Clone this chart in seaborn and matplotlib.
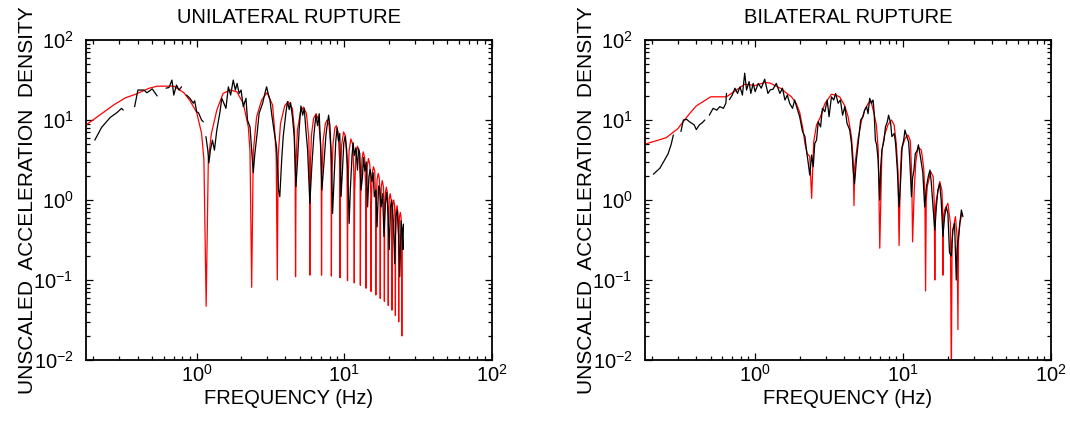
import numpy as np
import pandas as pd
import seaborn as sns
import matplotlib
matplotlib.use("Agg")
from matplotlib import pyplot as plt
from matplotlib.ticker import LogLocator, NullFormatter


# Unilateral rupture: model spectrum (red) and observed spectrum (black)
uni_model_f = [0.18, 0.255, 0.275, 0.33, 0.386, 0.475, 0.54, 0.70, 0.82, 0.90, 1.0, 1.08, 1.12,
               1.16, 1.2, 1.26, 1.37, 1.51, 1.68, 1.87, 2.07, 2.24, 2.30,
               2.36, 2.42, 2.55, 2.76, 3.0, 3.27, 3.39, 3.46,
               3.52, 3.57, 3.7, 3.95, 4.17, 4.45, 4.6, 4.65,
               4.68, 4.72, 4.82, 5.05, 5.3, 5.55, 5.75, 5.82,
               5.85, 5.89, 6.0, 6.2, 6.45, 6.7, 6.93, 6.99,
               7.02, 7.06, 7.2, 7.45, 7.65, 7.9, 8.1, 8.16,
               8.19, 8.23, 8.4, 8.65, 8.85, 9.1, 9.3,
               9.36, 9.41, 9.6, 9.9, 10.2, 10.45,
               10.53, 10.58, 10.8, 11.1, 11.4, 11.62,
               11.7, 11.76, 12.0, 12.3, 12.6, 12.82,
               12.87, 12.93, 13.2, 13.45, 13.75, 13.98,
               14.04, 14.1, 14.35, 14.6, 14.9, 15.15,
               15.21, 15.27, 15.5, 15.8, 16.1, 16.32,
               16.38, 16.44, 16.7, 17.0, 17.3, 17.5,
               17.55, 17.61, 17.85, 18.1, 18.4, 18.66,
               18.72, 18.78, 19.0, 19.3, 19.6, 19.83,
               19.89, 19.95, 20.2, 20.5, 20.8, 21.0,
               21.06, 21.12, 21.35, 21.65, 21.95, 22.17,
               22.23, 22.29, 22.5, 22.8, 23.1, 23.34,
               23.4, 23.46, 23.7, 24.0, 24.3, 24.52,
               24.57, 24.62, 24.8]
uni_model_y = [8.8, 14.0, 15.5, 19.0, 21.0, 24.9, 26.5, 26.5, 21.9, 17.5, 12.5, 6.8, 3.2,
               0.047, 3.2, 6.8, 13.3, 21.5, 23.7, 22.6, 16.2, 8.2, 4.0,
               0.081, 4.0, 11.0, 17.8, 22.0, 15.4, 6.8, 3.5,
               0.10, 3.5, 9.0, 15.0, 17.0, 14.0, 7.5, 3.0,
               0.11, 3.0, 7.5, 12.5, 14.5, 12.0, 6.0, 2.5,
               0.115, 2.5, 6.5, 10.5, 12.0, 10.0, 5.0, 2.0,
               0.115, 2.0, 5.5, 9.0, 10.0, 8.6, 4.5, 1.8,
               0.112, 1.8, 5.0, 8.0, 8.5, 7.0, 3.2,
               0.107, 1.6, 4.8, 7.1, 6.3, 2.8,
               0.098, 1.4, 4.2, 5.8, 5.0, 2.2,
               0.092, 1.2, 3.8, 4.7, 4.1, 1.8,
               0.086, 1.1, 3.3, 4.0, 3.4, 1.5,
               0.079, 0.95, 2.7, 3.3, 2.8, 1.2,
               0.072, 0.85, 2.2, 2.6, 2.3, 1.0,
               0.065, 0.75, 1.8, 2.15, 1.85, 0.85,
               0.059, 0.65, 1.5, 1.75, 1.5, 0.7,
               0.054, 0.55, 1.25, 1.45, 1.25, 0.6,
               0.048, 0.5, 1.05, 1.2, 1.0, 0.5,
               0.042, 0.42, 0.9, 1.0, 0.85, 0.42,
               0.036, 0.36, 0.75, 0.85, 0.7, 0.35,
               0.030, 0.3, 0.62, 0.7, 0.6, 0.3,
               0.020, 0.3, 0.45]

uni_obs_f = [0.204, 0.227, 0.26, 0.287, 0.31, 0.318,
             0.38, 0.40, 0.44, 0.46, 0.50, 0.54,
             0.62, 0.65, 0.68, 0.70, 0.73, 0.76, 0.79,
             0.855, 0.90, 0.95, 0.97, 1.0, 1.03, 1.08, 1.11,
             1.156, 1.19, 1.21, 1.24, 1.28, 1.32, 1.37, 1.44, 1.48, 1.53, 1.58, 1.64, 1.70,
             1.77, 1.83, 1.88, 1.94, 2.0, 2.07, 2.16, 2.21, 2.30, 2.36, 2.42, 2.48, 2.57,
             2.65, 2.80, 2.90, 2.98, 3.05, 3.14, 3.22, 3.34, 3.48, 3.59, 3.66, 3.77, 3.86,
             4.03, 4.13, 4.24, 4.33, 4.47, 4.58, 4.71, 4.83, 4.96, 5.09, 5.23, 5.36, 5.5,
             5.65, 5.85, 6.03, 6.23, 6.43, 6.6, 6.77, 6.96, 7.06, 7.29, 7.52, 7.72, 7.84,
             8.0, 8.2, 8.34, 8.55, 8.77, 8.95, 9.14, 9.33, 9.52, 9.73, 9.94, 10.15, 10.4,
             10.6, 10.8, 11.0, 11.3, 11.5, 11.7, 12.0, 12.3, 12.5, 12.75, 13.0, 13.3, 13.5,
             13.8, 14.1, 14.4, 14.7, 15.0, 15.4, 15.7, 16.0, 16.4, 16.7, 17.1, 17.4, 17.8,
             18.2, 18.6, 19.0, 19.4, 19.8, 20.2, 20.6, 21.0, 21.5, 22.0, 22.4, 22.9, 23.4,
             23.8, 24.3, 24.7, 25.0, 25.2]
uni_obs_y = [5.6, 8.1, 10.8, 12.3, 14.0, 13.3,
             14.7, 23.7, 23.7, 21.9, 24.5, 20.0,
             25.0, 25.5, 31.6, 20.5, 27.4, 23.7, 26.0,
             20.5, 18.7, 16.2, 17.4, 12.7, 12.3, 10.0, 9.5,
             6.2, 4.2, 2.9, 4.2, 5.6, 4.2, 7.5, 12.7, 18.7, 16.2, 14.0, 26.0, 20.5,
             31.6, 23.7, 28.7, 21.5, 23.7, 14.7, 18.7, 10.0, 8.2, 4.2, 2.2, 3.8, 6.8,
             12.1, 16.2, 21.5, 26.0, 21.5, 17.8, 12.1, 7.5, 4.6, 1.33, 1.1, 3.2, 6.2,
             12.5, 17.0, 13.5, 16.5, 10.5, 6.2, 1.47, 3.2, 8.0, 15.0, 11.5, 14.0, 7.5,
             4.2, 0.91, 2.6, 6.5, 11.5, 8.5, 12.0, 3.5, 1.33, 2.9, 6.5, 9.5, 11.5,
             8.5, 3.2, 0.68, 1.95, 5.5, 8.0, 5.5, 6.8, 1.1, 2.37, 5.2, 6.3, 4.2,
             1.95, 0.51, 1.33, 3.6, 5.2, 3.6, 4.5, 2.37, 4.4, 3.8, 1.33, 1.95, 3.4,
             2.3, 3.0, 0.82, 1.95, 2.4, 1.7, 2.2, 1.1, 1.33, 0.46, 1.5, 1.4, 0.82,
             1.2, 0.35, 0.91, 1.25, 0.68, 0.24, 0.82, 1.0, 0.56, 0.16, 0.62, 0.75, 0.35,
             0.11, 0.55, 0.42, 0.24, 0.5]
# first frequency of each new piece of the observed trace (the trace has gaps)
uni_obs_breaks = [0.38, 0.62, 0.855, 1.156]

# Bilateral rupture
bi_model_f = [0.18, 0.25, 0.30, 0.36, 0.40, 0.50, 0.64, 0.73, 0.85, 1.0, 1.16, 1.26, 1.39, 1.51,
              1.59, 1.76, 1.9, 2.0, 2.11, 2.17, 2.25, 2.34,
              2.41, 2.49, 2.6, 2.74, 2.96, 3.28, 3.5, 3.73, 4.04, 4.25, 4.48, 4.6,
              4.66, 4.71, 4.97, 5.25, 5.5, 5.8, 6.05, 6.37, 6.6, 6.8,
              6.96, 7.2, 7.5, 7.9, 8.35, 8.7, 9.0, 9.25,
              9.4, 9.6, 9.75, 10.3, 10.8, 11.2, 11.45,
              11.6, 11.9, 12.2, 12.6, 13.3, 13.8, 14.05,
              14.2, 14.35, 14.6, 15.4, 16.0, 16.25,
              16.4, 16.55, 16.8, 17.7, 18.3, 18.5,
              18.6, 18.75, 19.1, 20.1, 20.9,
              21.2, 21.45, 21.7, 22.6, 23.2,
              23.5, 23.7, 24.2, 25.0]
bi_model_y = [5.0, 6.0, 7.8, 12.0, 15.0, 19.5, 19.5, 23.0, 28.0, 27.0, 29.5, 29.0, 26.5, 24.5,
              22.5, 19.5, 16.0, 12.5, 7.5, 5.1, 3.8, 3.5,
              1.05, 5.4, 8.7, 10.5, 16.0, 21.0, 20.5, 19.5, 15.0, 11.0, 6.2, 3.2,
              0.85, 2.6, 5.9, 10.0, 13.3, 16.0, 17.5, 12.0, 8.7, 4.2,
              0.25, 4.2, 6.5, 8.7, 10.0, 8.7, 5.1, 2.2,
              0.27, 2.2, 4.2, 5.9, 6.5, 5.5, 2.0,
              0.30, 1.33, 3.0, 4.6, 4.2, 2.5, 1.2,
              0.073, 1.0, 1.5, 2.26, 1.95, 0.9,
              0.10, 0.8, 1.0, 1.7, 1.33, 0.8,
              0.115, 0.6, 0.75, 0.91, 0.51,
              0.005, 0.3, 0.42, 0.62, 0.35,
              0.024, 0.3, 0.51, 0.68]

bi_obs_f = [0.205, 0.227, 0.245, 0.258, 0.27, 0.28,
            0.315, 0.327, 0.344, 0.36, 0.387, 0.40, 0.42, 0.44, 0.457,
            0.49, 0.52, 0.55, 0.577, 0.61, 0.634, 0.64,
            0.67, 0.70, 0.73, 0.76, 0.79, 0.82, 0.85, 0.875, 0.91, 0.935, 0.97, 1.0, 1.05,
            1.10, 1.16, 1.22, 1.27, 1.32, 1.39, 1.47, 1.53, 1.59, 1.65, 1.71, 1.79, 1.85,
            1.92, 2.0, 2.09, 2.17, 2.23, 2.28, 2.34, 2.41, 2.47, 2.53, 2.6, 2.67, 2.77,
            2.85, 2.96, 3.07, 3.16, 3.28, 3.4, 3.5, 3.64, 3.77, 3.9, 4.04, 4.18, 4.36,
            4.48, 4.6, 4.7, 4.84, 5.0, 5.17, 5.36, 5.5, 5.67, 5.8, 5.95, 6.1, 6.27, 6.37,
            6.5, 6.63, 6.78, 6.96, 7.06, 7.2, 7.44, 7.6, 7.83, 7.98, 8.25, 8.4, 8.72,
            8.9, 9.15, 9.4, 9.66, 9.85, 10.1, 10.3, 10.6, 10.9, 11.1, 11.4, 11.6, 11.85,
            12.1, 12.5, 12.7, 13.0, 13.3, 13.6, 14.0, 14.4, 14.8, 15.2, 15.5, 16.0, 16.4,
            16.8, 17.2, 17.7, 18.1, 18.6, 19.1, 19.6, 20.1, 20.6, 21.2, 21.7, 22.3, 22.9,
            23.2, 24.2, 24.8, 25.4]
bi_obs_y = [2.1, 2.5, 3.2, 3.8, 4.9, 6.5,
            7.2, 10.0, 10.2, 9.5, 8.7, 7.6, 8.7, 9.3, 10.0,
            11.5, 14.0, 13.3, 14.7, 14.0, 16.2, 21.5,
            18.0, 20.5, 25.0, 21.5, 26.0, 20.5, 38.5, 23.7, 30.2, 21.5, 28.7, 22.6, 28.7,
            25.0, 32.4, 21.5, 24.0, 24.2, 28.7, 21.5, 25.0, 17.8, 20.5, 16.2, 14.0, 17.8,
            14.0, 11.0, 7.2, 6.2, 4.0, 3.0, 2.05, 3.65, 2.6, 5.1, 5.6, 9.5, 8.2,
            14.0, 12.7, 17.8, 11.0, 19.5, 17.8, 21.5, 16.2, 17.8, 11.5, 14.7, 9.1, 7.5,
            5.1, 2.37, 1.6, 3.2, 5.6, 10.0, 11.0, 13.3, 14.7, 12.0, 18.7, 16.2, 17.8, 12.7,
            5.6, 4.9, 3.2, 1.0, 2.6, 4.2, 5.6, 8.2, 9.5, 11.5, 9.1, 6.2, 6.8,
            5.1, 2.37, 0.82, 1.95, 4.6, 5.6, 7.5, 6.2, 5.35, 3.2, 1.1, 1.87, 2.37,
            3.8, 4.2, 4.9, 3.8, 2.9, 2.2, 0.82, 1.47, 1.95, 2.37, 1.7, 0.75, 0.42,
            0.82, 1.33, 1.6, 1.0, 0.35, 0.62, 0.82, 0.68, 0.22, 0.2, 0.42, 0.51, 0.1,
            0.24, 0.51, 0.75, 0.62]
bi_obs_breaks = [0.315, 0.49, 0.67]

titles = ["UNILATERAL RUPTURE", "BILATERAL RUPTURE"]
xlabel = "FREQUENCY (Hz)"
ylabel = "UNSCALED  ACCELERATION  DENSITY"


sns.set_style("ticks")
plt.rcParams["font.family"] = ["Liberation Sans", "DejaVu Sans"]
plt.rcParams["mathtext.fontset"] = "custom"
plt.rcParams["mathtext.rm"] = "Liberation Sans"
plt.rcParams["mathtext.it"] = "Liberation Sans:italic"
plt.rcParams["axes.unicode_minus"] = False
for key in ["text.color", "axes.labelcolor", "xtick.color", "ytick.color", "axes.edgecolor"]:
    plt.rcParams[key] = "black"

fig = plt.figure(figsize=(10.70, 4.29), dpi=100)
ax1 = fig.add_axes([0.0804, 0.1608, 0.3792, 0.7459])
ax2 = fig.add_axes([0.6028, 0.1608, 0.3794, 0.7459])

panels = [
    (ax1, uni_model_f, uni_model_y, uni_obs_f, uni_obs_y, uni_obs_breaks, 0.178),
    (ax2, bi_model_f, bi_model_y, bi_obs_f, bi_obs_y, bi_obs_breaks, 0.18),
]

for i, (ax, mf, my, of, oy, breaks, xmin) in enumerate(panels):
    obs = pd.DataFrame({"f": of, "y": oy})
    obs["piece"] = np.searchsorted(breaks, obs["f"], side="right")
    model = pd.DataFrame({"f": mf, "y": my})

    sns.lineplot(data=model, x="f", y="y", estimator=None, sort=False,
                 color="red", lw=0.9, ax=ax, legend=False)
    sns.lineplot(data=obs, x="f", y="y", units="piece", estimator=None, sort=False,
                 color="black", lw=0.9, ax=ax, legend=False)

    ax.set_xscale("log")
    ax.set_yscale("log")
    ax.set_xlim(xmin, 100)
    ax.set_ylim(0.01, 100)

    ax.xaxis.set_major_locator(LogLocator(base=10, numticks=10))
    ax.xaxis.set_minor_locator(LogLocator(base=10, subs=np.arange(2, 10), numticks=20))
    ax.yaxis.set_major_locator(LogLocator(base=10, numticks=10))
    ax.yaxis.set_minor_locator(LogLocator(base=10, subs=np.arange(2, 10), numticks=20))
    ax.xaxis.set_minor_formatter(NullFormatter())
    ax.yaxis.set_minor_formatter(NullFormatter())

    ax.tick_params(which="both", direction="in", top=True, right=True, color="black",
                   width=0.9)
    ax.tick_params(which="major", length=5, labelsize=14.5)
    ax.tick_params(which="minor", length=2.6)
    ax.tick_params(axis="x", which="major", pad=3)
    ax.tick_params(axis="y", which="major", pad=9)

    for s in ax.spines.values():
        s.set_linewidth(1.3)
        s.set_color("black")

    ax.set_title(titles[i], fontsize=14.5, pad=12)
    ax.set_xlabel(xlabel, fontsize=14.5, labelpad=2)
    ax.set_ylabel(ylabel, fontsize=15)
    ax.yaxis.set_label_coords(-0.12, 0.5)

plt.savefig("out.png", dpi=100)
